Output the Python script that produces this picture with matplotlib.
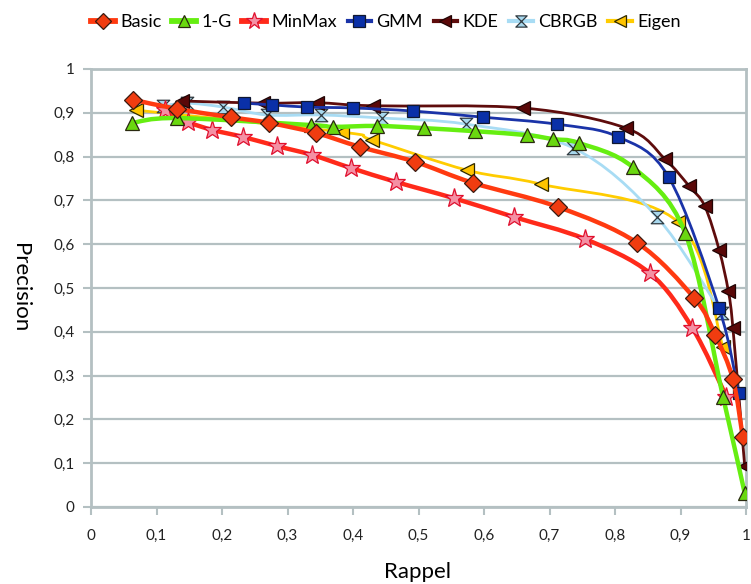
import numpy as np
import matplotlib
matplotlib.use("Agg")
import matplotlib.pyplot as plt
from matplotlib.path import Path
from matplotlib.patches import PathPatch
from matplotlib.lines import Line2D

plt.rcParams['font.family'] = ['Lato', 'DejaVu Sans']

# 数据
basic_x = [0.064, 0.131, 0.213, 0.272, 0.343, 0.411, 0.495, 0.583, 0.713, 0.834, 0.921, 0.953, 0.980, 0.995]
basic_y = [0.930, 0.909, 0.890, 0.877, 0.854, 0.822, 0.788, 0.740, 0.685, 0.603, 0.477, 0.393, 0.292, 0.160]

oneg_x = [0.063, 0.131, 0.336, 0.369, 0.437, 0.508, 0.586, 0.666, 0.705, 0.745, 0.827, 0.907, 0.965, 0.998]
oneg_y = [0.877, 0.888, 0.872, 0.868, 0.870, 0.865, 0.858, 0.849, 0.840, 0.831, 0.776, 0.626, 0.251, 0.032]

minmax_x = [0.113, 0.148, 0.185, 0.232, 0.284, 0.337, 0.397, 0.466, 0.554, 0.646, 0.754, 0.853, 0.918, 0.970]
minmax_y = [0.906, 0.879, 0.861, 0.845, 0.824, 0.804, 0.774, 0.742, 0.705, 0.662, 0.612, 0.534, 0.409, 0.252]

gmm_x = [0.234, 0.277, 0.330, 0.400, 0.492, 0.598, 0.711, 0.805, 0.882, 0.959, 0.989]
gmm_y = [0.922, 0.918, 0.913, 0.911, 0.904, 0.890, 0.874, 0.845, 0.753, 0.454, 0.260]

kde_x = [0.139, 0.263, 0.345, 0.431, 0.660, 0.817, 0.876, 0.913, 0.937, 0.959, 0.973, 0.980, 0.998]
kde_y = [0.927, 0.922, 0.923, 0.916, 0.911, 0.865, 0.795, 0.733, 0.687, 0.587, 0.493, 0.409, 0.094]

cbrgb_x = [0.110, 0.147, 0.202, 0.269, 0.351, 0.444, 0.573, 0.736, 0.864, 0.963]
cbrgb_y = [0.916, 0.922, 0.913, 0.895, 0.895, 0.888, 0.874, 0.820, 0.662, 0.442]

eigen_x = [0.069, 0.383, 0.429, 0.574, 0.687, 0.896, 0.965]
eigen_y = [0.906, 0.856, 0.838, 0.769, 0.737, 0.651, 0.365]

xticks = [0, 0.1, 0.2, 0.3, 0.4, 0.5, 0.6, 0.7, 0.8, 0.9, 1]
xtick_labels = ['0', '0,1', '0,2', '0,3', '0,4', '0,5', '0,6', '0,7', '0,8', '0,9', '1']
yticks = [0, 0.1, 0.2, 0.3, 0.4, 0.5, 0.6, 0.7, 0.8, 0.9, 1]
ytick_labels = ['0', '0,1', '0,2', '0,3', '0,4', '0,5', '0,6', '0,7', '0,8', '0,9', '1']

# 沙漏形标记
hourglass = Path([(-1, 1), (1, 1), (-1, -1), (1, -1), (-1, 1)],
                 [Path.MOVETO, Path.LINETO, Path.LINETO, Path.LINETO, Path.CLOSEPOLY])

# (名称, x, y, 线色, 线宽, 标记, 填充色, 边框色, 标记大小)
series = [
    ('Basic', basic_x, basic_y, '#ff3a10', 3.2, 'D', '#f03c10', '#3a1a10', 9.5),
    ('1-G', oneg_x, oneg_y, '#66ee11', 3.2, '^', '#6ad810', '#2a2a10', 10),
    ('MinMax', minmax_x, minmax_y, '#ff2a1a', 3.2, '*', '#f490a4', '#e0102e', 14),
    ('GMM', gmm_x, gmm_y, '#1a33a8', 2.0, 's', '#0a30a8', '#101830', 9),
    ('KDE', kde_x, kde_y, '#5e0c0c', 2.0, '<', '#5a0808', '#200404', 10),
    ('CBRGB', cbrgb_x, cbrgb_y, '#a8dcf4', 2.0, hourglass, '#a8d8ee', '#303a40', 9),
    ('Eigen', eigen_x, eigen_y, '#ffcc00', 2.0, '<', '#ffc400', '#302a00', 10),
]


def smooth_path(xs, ys):
    """Catmull-Rom 平滑曲线 (贝塞尔)"""
    p = np.column_stack([xs, ys])
    n = len(p)
    verts = [p[0]]
    codes = [Path.MOVETO]
    for i in range(n - 1):
        p0 = p[i - 1] if i > 0 else p[i]
        p3 = p[i + 2] if i + 2 < n else p[i + 1]
        c1 = p[i] + (p[i + 1] - p0) / 6.0
        c2 = p[i + 1] - (p3 - p[i]) / 6.0
        verts += [c1, c2, p[i + 1]]
        codes += [Path.CURVE4] * 3
    return Path(verts, codes)


fig = plt.figure(figsize=(7.51, 5.84), dpi=100)
ax = fig.add_axes([91 / 751, 1 - 507 / 584, 655 / 751, 438 / 584])

grid_color = '#b4c0c2'
handles = []
n = len(series)
for k, (name, xs, ys, lc, lw, mk, fc, ec, ms) in enumerate(series):
    z = 10 + (n - k) * 2
    patch = PathPatch(smooth_path(xs, ys), fill=False, edgecolor=lc, lw=lw,
                      transform=ax.transData, zorder=z, capstyle='round', joinstyle='round')
    ax.add_patch(patch)
    ax.plot(xs, ys, linestyle='none', marker=mk, markersize=ms,
            markerfacecolor=fc, markeredgecolor=ec, markeredgewidth=0.9, zorder=z + 1)
    handles.append(Line2D([], [], color=lc, lw=lw + 1, marker=mk, markersize=ms * 0.9,
                          markerfacecolor=fc, markeredgecolor=ec, markeredgewidth=0.9, label=name))

ax.set_xlim(0, 1)
ax.set_ylim(0, 1)
ax.set_xticks(xticks)
ax.set_xticklabels(xtick_labels)
ax.set_yticks(yticks)
ax.set_yticklabels(ytick_labels)
ax.tick_params(axis='both', direction='out', length=6, width=1.5, color=grid_color,
               labelsize=11, labelcolor='#222222')
ax.tick_params(axis='x', pad=10)
ax.tick_params(axis='y', pad=6)
ax.yaxis.grid(True, color=grid_color, lw=1.6)
ax.set_axisbelow(True)
for sp in ax.spines.values():
    sp.set_color(grid_color)
    sp.set_linewidth(2)

fig.text(20 / 751, 1 - 288 / 584, 'Precision', rotation=-90, ha='center', va='center', fontsize=16)
fig.text(418 / 751, 2 / 584, 'Rappel', ha='center', va='bottom', fontsize=16)

fig.legend(handles=handles, loc='center', bbox_to_anchor=(386 / 751, 1 - 22 / 584), ncol=7,
           frameon=False, fontsize=13, handlelength=1.3, handletextpad=0.3, columnspacing=0.6,
           borderaxespad=0)

fig.savefig('out.png', dpi=100)
